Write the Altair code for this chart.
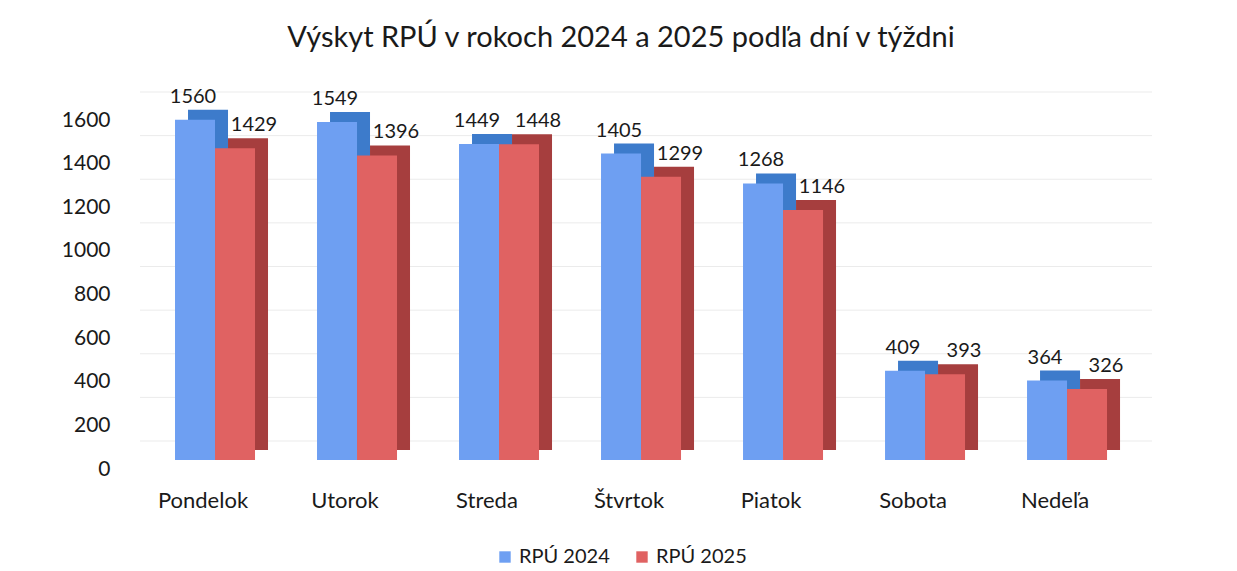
import altair as alt
import pandas as pd

days = ["Pondelok", "Utorok", "Streda", "Štvrtok", "Piatok", "Sobota", "Nedeľa"]
series = ["RPÚ 2024", "RPÚ 2025"]
v2024 = [1560, 1549, 1449, 1405, 1268, 409, 364]
v2025 = [1429, 1396, 1448, 1299, 1146, 393, 326]
y_ticks = [0, 200, 400, 600, 800, 1000, 1200, 1400, 1600]

rows = []
for d, a, b in zip(days, v2024, v2025):
    rows.append({"day": d, "series": series[0], "value": a})
    rows.append({"day": d, "series": series[1], "value": b})
df = pd.DataFrame(rows)
grid_df = pd.DataFrame({"value": y_ticks})

W = 1022
H = 349
BW = 80
DX = 13
FONT = "Lato"

x_enc = alt.X("day:N", sort=days,
              scale=alt.Scale(paddingInner=0.437, paddingOuter=0.317),
              axis=alt.Axis(title=None, labelFontSize=22, labelPadding=30,
                            labelOffset=-12, ticks=False, domain=False, grid=False,
                            labelAngle=0, labelColor="#1a1a1a", labelFont=FONT))
xo_front = alt.XOffset("series:N", sort=series,
                       scale=alt.Scale(range=[0, BW], paddingInner=0, paddingOuter=0))
xo_back = alt.XOffset("series:N", sort=series,
                      scale=alt.Scale(range=[DX, DX + BW], paddingInner=0, paddingOuter=0))
y_scale = alt.Scale(domain=[0, 1600], nice=False)
y_axis = alt.Axis(title=None, values=y_ticks, grid=False, ticks=False,
                  domain=False, labelFontSize=21, labelPadding=20, format="d",
                  labelOffset=9, labelColor="#1a1a1a", labelFont=FONT)
y_enc = alt.Y("value:Q", scale=y_scale, axis=y_axis)

grid = alt.Chart(grid_df).mark_rule(color="#ebebeb", strokeWidth=1, yOffset=-19).encode(
    y=y_enc,
    x=alt.value(10), x2=alt.value(W),
)

back = alt.Chart(df).mark_bar(yOffset=-10).encode(
    x=x_enc, xOffset=xo_back,
    y=y_enc,
    color=alt.condition(alt.datum.series == "RPÚ 2024",
                        alt.value("#3d7bcb"), alt.value("#a63e3e")),
)

front = alt.Chart(df).mark_bar().encode(
    x=x_enc, xOffset=xo_front,
    y=y_enc,
    color=alt.Color("series:N", sort=series,
                    scale=alt.Scale(domain=series, range=["#6e9ff2", "#e06262"]),
                    legend=alt.Legend(title=None, orient="none", direction="horizontal",
                                      legendX=365, legendY=87 + H, symbolType="square",
                                      symbolSize=130, labelFontSize=20, labelFont=FONT,
                                      labelColor="#1a1a1a", columnPadding=22,
                                      symbolStrokeWidth=0, labelOffset=4)),
)

lab_a = alt.Chart(df).transform_filter(alt.datum.series == "RPÚ 2024").mark_text(
    baseline="bottom", dx=-22, dy=-13, fontSize=20, font=FONT, color="#1a1a1a").encode(
    x=x_enc,
    y=y_enc,
    text=alt.Text("value:Q"),
)
lab_b = alt.Chart(df).transform_filter(alt.datum.series == "RPÚ 2025").mark_text(
    baseline="bottom", dx=39, dy=-13, fontSize=20, font=FONT, color="#1a1a1a").encode(
    x=x_enc,
    y=y_enc,
    text=alt.Text("value:Q"),
)

chart = alt.layer(grid, back, front, lab_a, lab_b).resolve_scale(
    xOffset="independent"
).properties(
    width=W, height=H,
    background="white",
    title=alt.TitleParams("Výskyt RPÚ v rokoch 2024 a 2025 podľa dní v týždni",
                          fontSize=29, font=FONT, fontWeight="normal",
                          color="#1a1a1a", anchor="middle", offset=34, dx=-20),
    padding={"left": 53, "top": 15, "right": 5, "bottom": 5},
).configure_view(stroke="transparent", strokeWidth=0)

chart.save("out.html", embed_options={"renderer": "svg", "actions": False})
